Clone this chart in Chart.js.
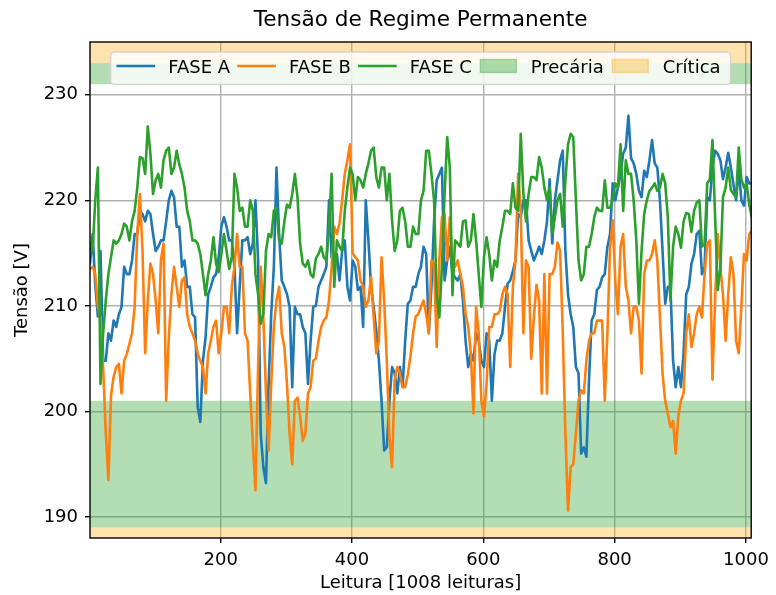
<!DOCTYPE html>
<html>
<head>
<meta charset="utf-8">
<script src="https://cdn.jsdelivr.net/npm/chart.js@4"></script>
<style>
  body { margin: 0; background: #fff; }
  canvas { display: block; }
</style>
</head>
<body>
<canvas id="grafico" width="776" height="595"></canvas>
<script>
// Leituras de tensao (amostradas a cada 4 leituras)
const passo = 4;

const faseA = [
  214, 216.8, 212, 209, 215.2, 204.8, 204.8, 207.4, 206.7, 208.6,
  208, 209.2, 209.9, 213.7, 213, 213, 214.3, 216.8, 216.8, 219,
  218.7, 218, 219, 218.7, 216.8, 215.2, 215.6, 216.2, 216.2, 218,
  220, 220.9, 220.3, 217.5, 217.5, 213.7, 214.3, 211.8, 211.8, 209.2,
  208.9, 200.4, 199, 204.8, 207,
  211.1, 211.8, 212.7, 213, 214.6, 217.5, 218.4, 217.5, 216.2, 216.2,
  213.7, 207.4, 211.8, 216.2, 216.2, 216.5, 214.9, 215.9, 220, 214.3,
  197.9, 194.7, 193.2, 202.6, 209.2, 213.7, 223.1, 216.8, 212.4, 211.8,
  211.1, 209.9, 202.3, 209.9, 209.2, 209.2, 208, 207.4, 202.6, 206.7,
  209.9, 210,
  211.8, 212.4, 213, 213.7, 220, 214.6, 214.3, 214.9, 212.4, 215.2,
  216.2, 211.8, 210.5, 214.3, 213.7, 211.5, 211.8, 208, 220, 216.2,
  211.8, 209.9, 207.7, 204.8, 201, 196.3, 196.6, 201, 204.2, 203.6,
  201.7, 204.2, 202.3, 206.7, 210.2, 210.5, 211.8, 211.8, 213, 213.7,
  215.6, 214.9, 207.4, 211.8, 218,
  221.9, 222.5, 223.1, 212.4, 214.3, 215.6, 213, 212.7, 212.4, 213,
  210.5, 206.7, 204.2, 205.5, 204.8, 207.4, 206.7, 204.8, 204.2, 207.4,
  206.7, 201, 205.4, 206.7, 206.7, 207.4, 209.9, 212.1, 212.4, 213.3,
  214.3, 218.7, 218.4, 220, 220, 216.2, 215.2, 214.3, 214.9, 215.6,
  214.9, 216.2, 218, 222, 215.9,
  220, 221.9, 223.8, 224.7, 215.2, 211.1, 209.2, 208, 204.2, 203.6,
  196, 196.6, 195.7, 203, 208.6, 209.2, 211.5, 211.8, 212.7, 213,
  215.6, 216.8, 221.6, 220, 221.2, 222.5, 224.4, 225, 228, 224,
  223.5, 222.5, 220.9, 220.3, 222.8, 222.2, 223.8, 225.7, 223.5, 223.1,
  220, 215.2, 210.2, 211.8, 211.8,
  204.8, 202.3, 204.2, 202.3, 205.5, 211.1, 211.8, 214, 214.9, 216.8,
  217.1, 213, 213.7, 220.3, 220, 223.1, 224.7, 224.4, 223.8, 222,
  223.1, 224.5, 223.1, 221.5, 220, 223, 220, 219.5, 222.2, 221.6,
  221.6
];

const faseB = [
  213.5, 213.7, 213, 209.9, 208.9, 204.2, 198, 193.5, 201.5, 203.3,
  204.2, 204.5, 201.7, 204.8, 205.4, 206.4, 207.4, 209.9, 216.8, 220.6,
  215.2, 205.5, 210.5, 214, 213, 210.5, 207.4, 214.3, 215.9, 201,
  207, 211.1, 213.7, 211.8, 209.9, 212.4, 212.7, 209.2, 208, 207.4,
  206.7, 205.5, 204.8, 204.2, 201.7,
  205.5, 206.7, 208, 208.6, 205.5, 207.4, 209.9, 209.9, 207.4, 211.8,
  213.7, 216.8, 213.7, 213.7, 207.4, 206.7, 201.7, 197, 192.5, 204.2,
  213.7, 208.9, 201.7, 196.3, 202.6, 208, 210.5, 211.8, 207.4, 206.1,
  202.6, 197.9, 195, 201, 201.3, 199.5, 197.2, 197.9, 201.7, 202.3,
  204.8, 205,
  206.7, 208, 208.6, 208.9, 210.5, 213.7, 217.5, 216.8, 217.8, 220,
  222.5, 223.8, 225.3, 215, 214.6, 214.3, 212.4, 211.8, 209.9, 210.5,
  212.7, 209, 205.5, 206.7, 214.6, 210.5, 204.8, 197.5, 194.7, 203,
  204.2, 203.6, 202.3, 202.3, 203.5, 205.2, 207.4, 209, 209.2, 209.9,
  210.5, 209.2, 207.4, 214.3, 214,
  206.1, 214.3, 218.4, 218.7, 214.3, 218.4, 213.7, 213.7, 214.3, 213,
  211.8, 209.2, 208, 205.5, 199.8, 209.9, 207.4, 201, 199.5, 202.6,
  208, 208, 209.2, 209.2, 209.5, 211.1, 211.8, 211.1, 204.2, 211.8,
  214.3, 222.5, 219, 207.4, 214.3, 213.7, 205, 208.9, 212, 210.5,
  201.7, 213, 201.7, 213, 213,
  213.7, 216, 215.2, 207.5, 197.9, 190.6, 194.7, 195, 197.9, 201,
  202, 201.7, 204.8, 206.7, 207.4, 207.4, 208.6, 208.6, 208.6, 201,
  207.4, 215.5, 218.1, 212.4, 209.2, 215.6, 216.8, 211.8, 210.5, 207.4,
  209.9, 209.9, 208.6, 203.6, 213, 214.3, 214.3, 214.9, 216.2, 214.3,
  208.9, 203.6, 201, 199.8, 198.5,
  199.1, 196, 199.5, 201, 201.7, 207.4, 209.2, 206.1, 207.4, 209.2,
  209.9, 208.9, 213, 215.9, 216.2, 203, 210.5, 216.8, 213.7, 211.1,
  206.7, 211.1, 214.6, 213, 206.7, 205.5, 209.9, 214.9, 214.3, 216.8,
  217.1
];

const faseC = [
  216, 215.2, 220, 223.1, 202.6, 207.4, 210.5, 213, 214.6, 216.2,
  215.9, 216.2, 216.8, 217.8, 217.5, 216.2, 218, 219, 221.2, 224.1,
  224, 222.5, 227, 224.4, 220.6, 221.9, 222.5, 221.2, 223.8, 224.7,
  225, 222.5, 223.1, 224.7, 223.4, 222.5, 221.2, 219, 218, 216.2,
  216.2, 215.9, 214.9, 213, 211,
  213, 214.3, 216.5, 214, 213.2, 214.9, 216.8, 215.2, 213.5, 214.6,
  222.5, 221.2, 219, 219.3, 217.5, 217.5, 220, 219, 213, 211.1,
  208.3, 209.2, 215.2, 216.8, 216.5, 219, 219.3, 216.2, 215.9, 218,
  219.6, 219.3, 220.6, 222.5, 220.3, 215.9, 214, 213.7, 214.3, 213,
  212.7, 214.5,
  214.9, 215.6, 214.6, 214.3, 217.5, 222.5, 211.8, 216.2, 215.6, 215.2,
  219, 221.2, 223.1, 222.5, 220, 222.2, 221.9, 221.2, 222.5, 223.5,
  224.7, 225, 222.2, 221.2, 223.1, 223.1, 220, 222.5, 218.1, 215.2,
  216.2, 219, 219.3, 218, 215.6, 215.6, 217.5, 216.8, 216.8, 220,
  220.9, 224.7, 224.7, 222.5, 220,
  211, 208.9, 213.7, 220.6, 226, 223.1, 211, 216.2, 215.9, 215.6,
  218, 218.1, 215.6, 216.2, 218.7, 216.2, 213, 209.9, 214.6, 216.5,
  214.9, 212.4, 214.3, 213.7, 216.2, 217.5, 219, 219, 218.7, 221.6,
  219.3, 219, 226.3, 220.6, 218, 220.6, 222.2, 222.2, 221.9, 224.1,
  223.1, 221.2, 220, 221.2, 216.8,
  218.4, 220, 220.6, 217.5, 221.9, 225.3, 226.3, 226, 220, 214.3,
  212.4, 213, 215.6, 215.6, 216.8, 218.4, 219.3, 219, 219, 221.9,
  219.3, 219.3, 220, 221.6, 221.2, 225.3, 219, 223.8, 222.5, 222.5,
  220, 216.2, 210.2, 215.2, 218.7, 220, 220.9, 221.2, 221.6, 220.9,
  221.2, 222.5, 221.6, 218.4, 210.5,
  215.6, 217.5, 216.8, 215.5, 218, 218.8, 218.7, 217, 219, 219.8,
  220, 215.6, 215.9, 221.6, 222, 225.7, 218.5, 211.5, 213.5, 220.3,
  221.2, 223.1, 221, 220.6, 220.3, 225, 222, 221.2, 221.6, 219.6,
  218.4
];

// Numero da leitura de cada amostra
const leituras = faseA.map((_, i) => 1 + i * passo);

// Eixos e faixas de tensao (ANEEL)
const xTicks = [200, 400, 600, 800, 1000];
const yTicks = [190, 200, 210, 220, 230];
const faixaPrecaria = [[189, 201], [231, 233]];
const faixaCritica = [[186, 189], [233, 238]];

const fonte = 'DejaVu Sans';
const corA = '#1f77b4';
const corB = '#ff7f0e';
const corC = '#2ca02c';
const corPrecaria = 'rgba(44, 160, 44, 0.36)';
const corCritica = 'rgba(255, 165, 0, 0.32)';

function serie(valores) {
    return valores.map((v, i) => ({ x: leituras[i], y: v }));
}

// Faixas horizontais desenhadas atras das linhas
const faixasPlugin = {
    id: 'faixas',
    beforeDatasetsDraw(chart) {
        const { ctx, chartArea, scales } = chart;
        ctx.save();
        ctx.beginPath();
        ctx.rect(chartArea.left, chartArea.top, chartArea.right - chartArea.left, chartArea.bottom - chartArea.top);
        ctx.clip();
        const desenha = (faixas, cor) => {
            faixas.forEach(f => {
                const y1 = scales.y.getPixelForValue(f[1]);
                const y0 = scales.y.getPixelForValue(f[0]);
                ctx.fillStyle = cor;
                ctx.fillRect(chartArea.left, y1, chartArea.right - chartArea.left, y0 - y1);
            });
        };
        desenha(faixaPrecaria, corPrecaria);
        desenha(faixaCritica, corCritica);
        ctx.restore();
    }
};

// Moldura, legenda e titulo no estilo matplotlib
const extrasPlugin = {
    id: 'extras',
    afterDatasetsDraw(chart) {
        const { ctx, chartArea } = chart;
        ctx.save();
        ctx.strokeStyle = '#000';
        ctx.lineWidth = 1.4;
        ctx.strokeRect(chartArea.left, chartArea.top, chartArea.right - chartArea.left, chartArea.bottom - chartArea.top);

        // legenda
        const itens = [
            { nome: 'FASE A', cor: corA, tipo: 'linha' },
            { nome: 'FASE B', cor: corB, tipo: 'linha' },
            { nome: 'FASE C', cor: corC, tipo: 'linha' },
            { nome: 'Precária', cor: corPrecaria, tipo: 'faixa' },
            { nome: 'Crítica', cor: corCritica, tipo: 'faixa' }
        ];
        ctx.font = '18px "' + fonte + '"';
        const alca = 36, pad = 14.4, espaco = 8.5;
        let largura = 7.2 + 10;
        itens.forEach((it, i) => {
            it.w = ctx.measureText(it.nome).width;
            largura += alca + pad + it.w + (i < itens.length - 1 ? espaco : 0);
        });
        const cx = (chartArea.left + chartArea.right) / 2;
        const bx = cx - largura / 2, by = 52, bh = 32.5;
        ctx.beginPath();
        ctx.roundRect(bx, by, largura, bh, 4);
        ctx.fillStyle = 'rgba(255,255,255,0.8)';
        ctx.fill();
        ctx.strokeStyle = 'rgba(204,204,204,0.8)';
        ctx.lineWidth = 1.4;
        ctx.stroke();

        const ym = 66;
        let x = bx + 7.2;
        itens.forEach(it => {
            if (it.tipo === 'linha') {
                ctx.beginPath();
                ctx.moveTo(x, ym);
                ctx.lineTo(x + alca, ym);
                ctx.strokeStyle = it.cor;
                ctx.lineWidth = 2.7;
                ctx.lineCap = 'square';
                ctx.stroke();
            } else {
                ctx.fillStyle = it.cor;
                ctx.fillRect(x, ym - 6.5, alca, 13);
                ctx.strokeStyle = it.cor;
                ctx.lineWidth = 1.4;
                ctx.strokeRect(x, ym - 6.5, alca, 13);
            }
            ctx.fillStyle = '#000';
            ctx.textAlign = 'left';
            ctx.textBaseline = 'alphabetic';
            ctx.fillText(it.nome, x + alca + pad, 72.5);
            x += alca + pad + it.w + espaco;
        });

        // titulo
        ctx.font = '21.6px "' + fonte + '"';
        ctx.textAlign = 'center';
        ctx.fillText('Tensão de Regime Permanente', cx, 26);
        ctx.restore();
    }
};

const ctx = document.getElementById('grafico').getContext('2d');
new Chart(ctx, {
    type: 'line',
    data: {
        datasets: [
            { label: 'FASE A', data: serie(faseA), borderColor: corA, order: 3 },
            { label: 'FASE B', data: serie(faseB), borderColor: corB, order: 2 },
            { label: 'FASE C', data: serie(faseC), borderColor: corC, order: 1 }
        ]
    },
    options: {
        responsive: false,
        animation: false,
        devicePixelRatio: 1,
        layout: { padding: { top: 42, right: 18, left: 0, bottom: 0 } },
        elements: {
            line: { borderWidth: 2.6, tension: 0, borderJoinStyle: 'round', borderCapStyle: 'round' },
            point: { radius: 0 }
        },
        plugins: {
            legend: { display: false },
            title: { display: false },
            tooltip: { enabled: false }
        },
        scales: {
            x: {
                type: 'linear',
                min: 1,
                max: 1008,
                afterBuildTicks: s => { s.ticks = xTicks.map(v => ({ value: v })); },
                afterFit: s => { s.height = 57; },
                grid: { color: '#b0b0b0', lineWidth: 1.4, tickColor: '#000', tickLength: 5, tickWidth: 1.4 },
                border: { display: false },
                ticks: { color: '#000', font: { family: fonte, size: 18 }, padding: 7, maxRotation: 0, callback: v => String(v) },
                title: { display: true, text: 'Leitura [1008 leituras]', color: '#000', font: { family: fonte, size: 18 }, padding: { top: 0, bottom: 1 } }
            },
            y: {
                min: 188,
                max: 235,
                afterBuildTicks: s => { s.ticks = yTicks.map(v => ({ value: v })); },
                afterFit: s => { s.width = 90; },
                grid: { color: '#b0b0b0', lineWidth: 1.4, tickColor: '#000', tickLength: 5, tickWidth: 1.4 },
                border: { display: false },
                ticks: { color: '#000', font: { family: fonte, size: 18 }, padding: 7, callback: v => String(v) },
                title: { display: true, text: 'Tensão [V]', color: '#000', font: { family: fonte, size: 18 }, padding: { top: 12, bottom: 0 } }
            }
        }
    },
    plugins: [faixasPlugin, extrasPlugin]
});
</script>
</body>
</html>
